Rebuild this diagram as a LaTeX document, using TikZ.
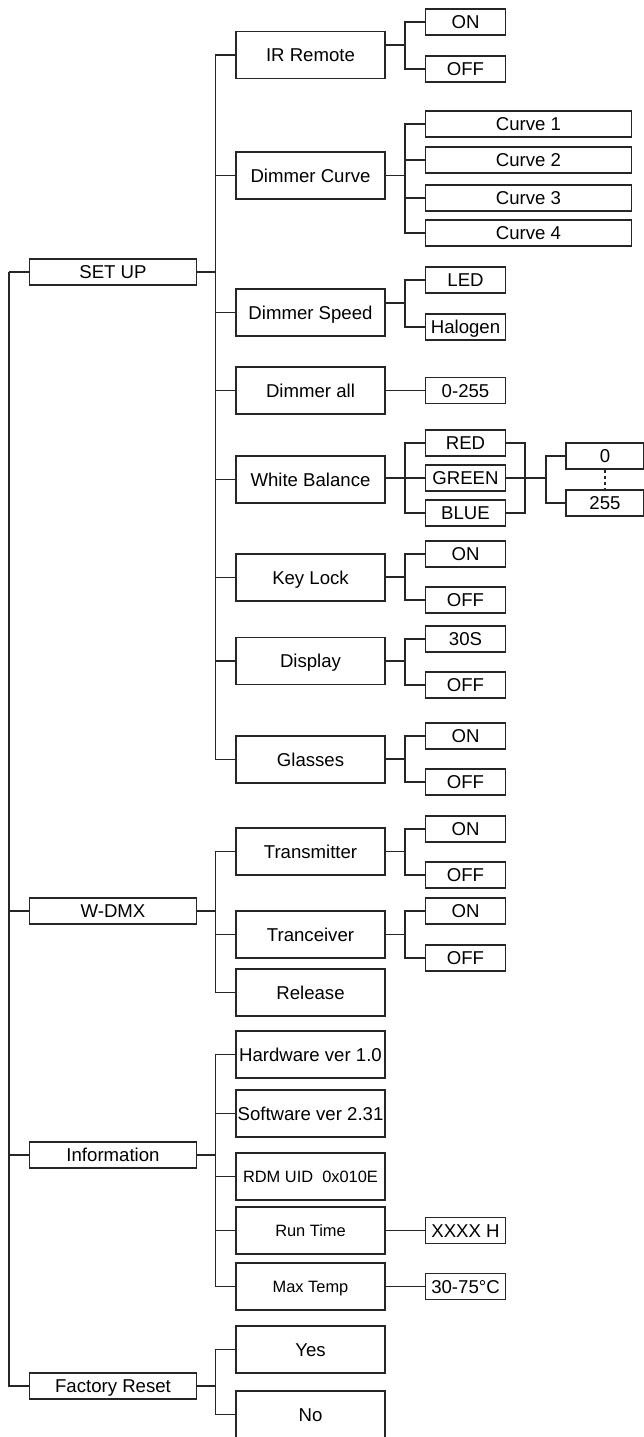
\documentclass[tikz,border=0pt]{standalone}
\usepackage{fontspec}
\setmainfont{Liberation Sans}
\usetikzlibrary{calc}

\begin{document}
\begin{tikzpicture}[x=1pt,y=-1pt]
\tikzstyle{box}=[draw=black!85, line width=1.5pt, rectangle, inner sep=1pt,
text height=13.3pt, text depth=0pt, font=\fontsize{18.6pt}{22pt}\selectfont]
\tikzstyle{lvlone}=[box, minimum width=167pt, minimum height=26pt]
\tikzstyle{lvltwo}=[box, minimum width=149pt, minimum height=47pt]
\tikzstyle{lvlthree}=[box, minimum width=80pt, minimum height=26pt]
\tikzstyle{curvebox}=[box, minimum width=206pt, minimum height=26pt]
\tikzstyle{valbox}=[box, minimum width=78pt, minimum height=26pt]
\tikzstyle{small}=[font=\fontsize{16.4pt}{20pt}\selectfont, text height=11.7pt]
\tikzstyle{link}=[draw=black!85, line width=1.3pt]

\useasboundingbox (0,0) rectangle (644,1437);
\clip (0,0) rectangle (644,1437);

% main menu
\node[lvlone] (setup) at (113,272) {SET UP};
\node[lvlone] (wdmx) at (113,911) {W-DMX};
\node[lvlone] (info) at (113,1155) {Information};
\node[lvlone] (reset) at (113,1386) {Factory Reset};

\coordinate (root) at (9,272);
\foreach \n in {setup,wdmx,info,reset}
  \draw[link] (root) |- (\n.west);

% SET UP
\node[lvltwo] (irr) at (310.5,55) {IR Remote};
\node[lvltwo] (dcurve) at (310.5,175.5) {Dimmer Curve};
\node[lvltwo] (dspeed) at (310.5,312.5) {Dimmer Speed};
\node[lvltwo] (dall) at (310.5,390.5) {Dimmer all};
\node[lvltwo] (wbal) at (310.5,479.5) {White Balance};
\node[lvltwo] (klock) at (310.5,577.5) {Key Lock};
\node[lvltwo] (disp) at (310.5,661) {Display};
\node[lvltwo] (glass) at (310.5,759.5) {Glasses};

\coordinate (setupj) at (215.6,272);
\draw[link] (setup.east) -- (setupj);
\foreach \n in {irr,dcurve,dspeed,dall,wbal,klock,disp,glass}
  \draw[link] (setupj) |- (\n.west);

% IR Remote
\node[lvlthree] (irron) at (465.5,22) {ON};
\node[lvlthree] (irroff) at (465.5,69) {OFF};
\coordinate (irrj) at (405,45);
\draw[link] (irr.east |- irrj) -- (irrj);
\foreach \n in {irron,irroff} \draw[link] (irrj) |- (\n.west);

% Dimmer Curve
\node[curvebox] (cv1) at (528.5,124) {Curve 1};
\node[curvebox] (cv2) at (528.5,160) {Curve 2};
\node[curvebox] (cv3) at (528.5,198) {Curve 3};
\node[curvebox] (cv4) at (528.5,233) {Curve 4};
\coordinate (dcurvej) at (405,175.5);
\draw[link] (dcurve.east) -- (dcurvej);
\foreach \n in {cv1,cv2,cv3,cv4} \draw[link] (dcurvej) |- (\n.west);

% Dimmer Speed
\node[lvlthree] (led) at (465.5,280) {LED};
\node[lvlthree] (halo) at (465.5,327) {Halogen};
\coordinate (dspeedj) at (405,303);
\draw[link] (dspeed.east |- dspeedj) -- (dspeedj);
\foreach \n in {led,halo} \draw[link] (dspeedj) |- (\n.west);

% Dimmer all
\node[lvlthree] (range) at (465.5,390.5) {0-255};
\draw[link] (dall.east) -- (range.west);

% White Balance
\node[lvlthree] (red) at (465.5,443) {RED};
\node[lvlthree] (green) at (465.5,478) {GREEN};
\node[lvlthree] (blue) at (465.5,513) {BLUE};
\coordinate (wbalj) at (405,478);
\draw[link] (wbal.east |- wbalj) -- (wbalj);
\foreach \n in {red,green,blue} \draw[link] (wbalj) |- (\n.west);

\node[valbox] (v0) at (605,456) {0};
\node[valbox] (v255) at (605,503) {255};
\coordinate (rgbj) at (525,478);
\coordinate (valj) at (546,478);
\foreach \n in {red,green,blue} \draw[link] (\n.east) -| (rgbj);
\draw[link] (rgbj) -- (valj);
\foreach \n in {v0,v255} \draw[link] (valj) |- (\n.west);
\draw[link, dash pattern=on 3pt off 3pt] (v0.south) -- (v255.north);

% Key Lock
\node[lvlthree] (klon) at (465.5,554) {ON};
\node[lvlthree] (kloff) at (465.5,600) {OFF};
\coordinate (klockj) at (405,577);
\draw[link] (klock.east |- klockj) -- (klockj);
\foreach \n in {klon,kloff} \draw[link] (klockj) |- (\n.west);

% Display
\node[lvlthree] (d30) at (465.5,639) {30S};
\node[lvlthree] (doff) at (465.5,685) {OFF};
\coordinate (dispj) at (405,661);
\draw[link] (disp.east |- dispj) -- (dispj);
\foreach \n in {d30,doff} \draw[link] (dispj) |- (\n.west);

% Glasses
\node[lvlthree] (gon) at (465.5,736) {ON};
\node[lvlthree] (goff) at (465.5,782) {OFF};
\coordinate (glassj) at (405,759);
\draw[link] (glass.east |- glassj) -- (glassj);
\foreach \n in {gon,goff} \draw[link] (glassj) |- (\n.west);

% W-DMX
\node[lvltwo] (trans) at (310.5,851.5) {Transmitter};
\node[lvltwo] (tranc) at (310.5,934.5) {Tranceiver};
\node[lvltwo] (rel) at (310.5,992.5) {Release};

\coordinate (wdmxj) at (215.6,911);
\draw[link] (wdmx.east) -- (wdmxj);
\foreach \n in {trans,tranc,rel}
  \draw[link] (wdmxj) |- (\n.west);

\node[lvlthree] (txon) at (465.5,829) {ON};
\node[lvlthree] (txoff) at (465.5,875) {OFF};
\coordinate (transj) at (405,851.5);
\draw[link] (trans.east |- transj) -- (transj);
\foreach \n in {txon,txoff} \draw[link] (transj) |- (\n.west);

\node[lvlthree] (rxon) at (465.5,911) {ON};
\node[lvlthree] (rxoff) at (465.5,958) {OFF};
\coordinate (trancj) at (405,934.5);
\draw[link] (tranc.east |- trancj) -- (trancj);
\foreach \n in {rxon,rxoff} \draw[link] (trancj) |- (\n.west);

% Information
\node[lvltwo] (hw) at (310.5,1054.5) {Hardware ver 1.0};
\node[lvltwo] (sw) at (310.5,1113.5) {Software ver 2.31};
\node[lvltwo, small] (rdm) at (310.5,1176.5) {RDM UID\ \ 0x010E};
\node[lvltwo, small] (run) at (310.5,1230.5) {Run Time};
\node[lvltwo, small] (maxt) at (310.5,1286.5) {Max Temp};

\coordinate (infoj) at (215.6,1155);
\draw[link] (info.east) -- (infoj);
\foreach \n in {hw,sw,rdm,run,maxt}
  \draw[link] (infoj) |- (\n.west);

\node[lvlthree] (hours) at (465.5,1230.5) {XXXX H};
\node[lvlthree] (temp) at (465.5,1286.5) {30-75°C};
\draw[link] (run.east) -- (hours.west);
\draw[link] (maxt.east) -- (temp.west);

% Factory Reset
\node[lvltwo] (yes) at (310.5,1349.5) {Yes};
\node[lvltwo] (no) at (310.5,1414.5) {No};

\coordinate (resetj) at (215.6,1386);
\draw[link] (reset.east) -- (resetj);
\foreach \n in {yes,no}
  \draw[link] (resetj) |- (\n.west);

\end{tikzpicture}
\end{document}
